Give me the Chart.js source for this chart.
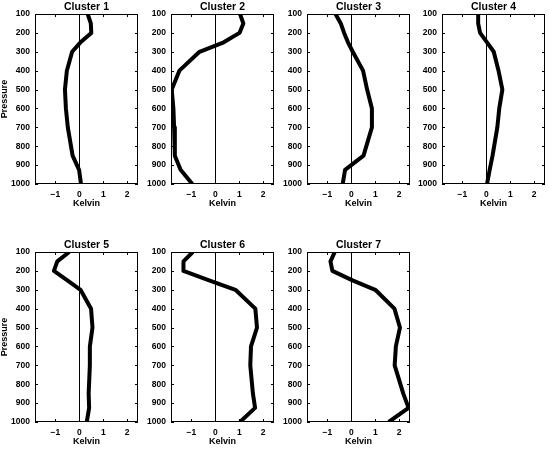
<!DOCTYPE html>
<html><head><meta charset="utf-8">
<script src="https://cdn.jsdelivr.net/npm/chart.js@4"></script>
<style>
html,body{margin:0;padding:0;background:#fff;width:549px;height:452px;overflow:hidden;position:relative}
canvas{position:absolute}
</style></head><body>
<script>
// ---- data ----
const pressureLevels = [100,150,200,250,300,400,500,600,700,850,925,1000];
const yTickValues = [100,200,300,400,500,600,700,800,900,1000];
const xTickValues = [-1,0,1,2];
const clusterNames = ['Cluster 1','Cluster 2','Cluster 3','Cluster 4','Cluster 5','Cluster 6','Cluster 7'];
const cluster1 = [0.35,0.48,0.5,0.05,-0.3,-0.52,-0.6,-0.56,-0.48,-0.28,-0.01,0.07];
const cluster2 = [1.03,1.17,1.01,0.35,-0.66,-1.5,-1.82,-1.75,-1.72,-1.69,-1.45,-0.96];
const cluster3 = [-0.66,-0.44,-0.3,-0.14,0.06,0.49,0.66,0.86,0.86,0.51,-0.26,-0.36];
const cluster4 = [-0.34,-0.34,-0.26,0.03,0.31,0.51,0.67,0.54,0.46,0.26,0.14,0.03];
const cluster5 = [-0.42,-0.92,-1.06,-0.5,0.05,0.49,0.55,0.44,0.44,0.39,0.41,0.31];
const cluster6 = [-0.94,-1.33,-1.33,-0.26,0.84,1.67,1.74,1.49,1.46,1.57,1.66,1.03];
const cluster7 = [-0.69,-0.87,-0.79,0.05,1.0,1.8,2.03,1.86,1.81,2.17,2.39,1.56];
const clusterValues = [cluster1,cluster2,cluster3,cluster4,cluster5,cluster6,cluster7];

// ---- layout ----
const plotLefts = [35,171,307,442,35,171,307];
const plotTops = [14,14,14,14,252,252,252];
const plotW = 103, plotH = 170, axisW = 35, titleH = 14, bottomH = 30, rightPad = 5;
const FONT = "'Liberation Sans', Arial, Helvetica, sans-serif";

const boxTicks = {
  id: 'boxTicks',
  beforeDatasetsDraw(chart) {
    const {ctx, chartArea: a, scales} = chart;
    ctx.save();
    ctx.strokeStyle = '#000';
    ctx.lineWidth = 1;
    ctx.strokeRect(a.left + 0.5, a.top + 0.5, a.right - a.left - 1, a.bottom - a.top - 1);
    ctx.beginPath();
    const tl = 3;
    xTickValues.forEach(v => {
      const px = Math.round(scales.x.getPixelForValue(v)) + 0.5;
      ctx.moveTo(px, a.top); ctx.lineTo(px, a.top + tl);
      ctx.moveTo(px, a.bottom); ctx.lineTo(px, a.bottom - tl);
    });
    yTickValues.forEach(v => {
      const py = Math.round(scales.y.getPixelForValue(v)) + 0.5;
      ctx.moveTo(a.left, py); ctx.lineTo(a.left + tl, py);
      ctx.moveTo(a.right, py); ctx.lineTo(a.right - tl, py);
    });
    ctx.stroke();
    ctx.restore();
  }
};

clusterValues.forEach((vals, i) => {
  const cv = document.createElement('canvas');
  const W = axisW + plotW + rightPad, H = titleH + plotH + bottomH;
  cv.width = W; cv.height = H;
  cv.style.left = (plotLefts[i] - axisW) + 'px';
  cv.style.top = (plotTops[i] - titleH) + 'px';
  document.body.appendChild(cv);
  const showY = (i === 0 || i === 4);
  new Chart(cv, {
    type: 'line',
    data: {
      datasets: [{
        data: pressureLevels.map((p, k) => ({x: vals[k], y: p})),
        borderColor: '#000',
        borderWidth: 4,
        pointRadius: 0,
        tension: 0,
        fill: false,
        borderJoinStyle: 'round'
      }]
    },
    options: {
      responsive: false,
      animation: false,
      devicePixelRatio: 1,
      layout: {padding: {left: 0, top: 0, right: rightPad, bottom: 0}},
      plugins: {legend: {display: false}, tooltip: {enabled: false}, title: {display: false}},
      scales: {
        x: {
          type: 'linear', position: 'bottom', min: -1.85, max: 2.45,
          afterBuildTicks: s => { s.ticks = xTickValues.map(v => ({value: v})); },
          afterFit: s => { s.height = bottomH; },
          ticks: {
            color: '#000', padding: 6, maxRotation: 0,
            font: {family: FONT, size: 8.5, weight: 'bold'},
            callback: v => v < 0 ? '\u2212' + Math.abs(v) : String(v)
          },
          grid: {
            drawTicks: false, lineWidth: 1,
            color: c => (c.tick && c.tick.value === 0) ? '#000' : 'rgba(0,0,0,0)'
          },
          border: {display: false},
          title: {display: true, text: 'Kelvin', color: '#000', padding: {top: 0, bottom: 5.5},
                  font: {family: FONT, size: 9, weight: 'bold', lineHeight: 1}}
        },
        xTop: {
          type: 'linear', position: 'top', min: -1.85, max: 2.45,
          afterFit: s => { s.height = titleH; },
          ticks: {display: false},
          grid: {display: false, drawTicks: false},
          border: {display: false},
          title: {display: true, text: clusterNames[i], color: '#000', padding: {top: 1.5, bottom: 0},
                  font: {family: FONT, size: 10.5, weight: 'bold', lineHeight: 1}}
        },
        y: {
          type: 'linear', reverse: true, min: 100, max: 1000,
          afterBuildTicks: s => { s.ticks = yTickValues.map(v => ({value: v})); },
          afterFit: s => { s.width = axisW; },
          ticks: {color: '#000', padding: 5, font: {family: FONT, size: 8.5, weight: 'bold'},
                  callback: v => String(v)},
          grid: {display: false, drawTicks: false},
          border: {display: false},
          title: {display: showY, text: 'Pressure', color: '#000', padding: {top: 0, bottom: 0},
                  font: {family: FONT, size: 9, weight: 'bold', lineHeight: 1}}
        }
      }
    },
    plugins: [boxTicks]
  });
});
</script>
</body></html>
